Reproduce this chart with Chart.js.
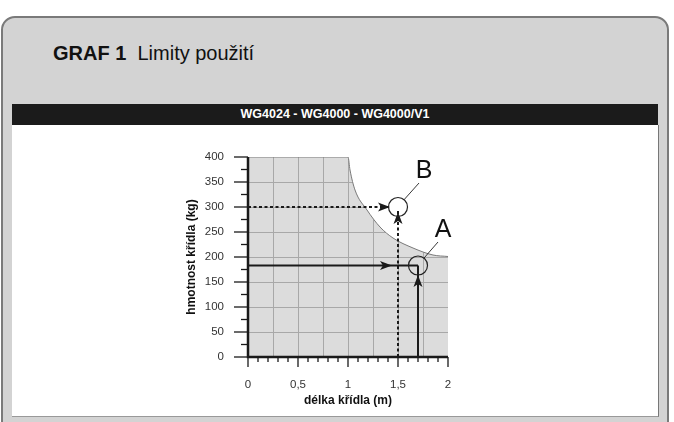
<!DOCTYPE html>
<html><head><meta charset="utf-8">
<script src="https://cdn.jsdelivr.net/npm/chart.js@4/dist/chart.umd.min.js"></script>
<style>
body{margin:0;width:674px;height:422px;background:#fff;overflow:hidden;font-family:"Liberation Sans",Arial,sans-serif;position:relative}
#box{position:absolute;left:1px;top:16px;width:668px;height:420px;background:#d3d3d3;border:2px solid #7a7a7a;border-radius:14px;box-sizing:border-box}
#head{position:absolute;left:53px;top:42px;font-size:20px;color:#111}
#bar{position:absolute;left:12px;top:104px;width:646px;height:21px;background:#1b1b1b;color:#fff;font-weight:bold;font-size:12.5px;text-align:center;line-height:21px}
#panel{position:absolute;left:12px;top:125px;width:646px;height:291px;background:#fff;border-right:1px solid #777;border-bottom:1px solid #999}
#c{position:absolute;left:12px;top:125px}
</style></head><body>
<div id="box"></div>
<div id="head"><b>GRAF 1</b>&nbsp; Limity použití</div>
<div id="bar">WG4024 - WG4000 - WG4000/V1</div>
<div id="panel"></div>
<canvas id="c" width="646" height="291"></canvas>
<script>
const limitX = [0, 1.0, 1.02, 1.07, 1.19, 1.32, 1.45, 1.65, 1.85, 2.0];
const limitY = [400, 400, 374, 334, 294, 260, 238, 218, 204, 201];
const xTicks = [0, 0.5, 1, 1.5, 2];
const yTicks = [0, 50, 100, 150, 200, 250, 300, 350, 400];
const pointA = {x:1.7, y:183, label:'A', lx:1.95, ly:254};
const pointB = {x:1.5, y:300, label:'B', lx:1.76, ly:372};

const limitData = limitX.map((x,i)=>({x, y:limitY[i]}));

const deco = {
  id:'deco',
  beforeDatasetsDraw(ch){
    const {ctx, chartArea:a, scales:{x:sx,y:sy}} = ch;
    ctx.save();
    ctx.fillStyle='#dcdcdc';
    ctx.fillRect(a.left,a.top,a.right-a.left,a.bottom-a.top);
    ctx.strokeStyle='#a8a8a8'; ctx.lineWidth=1;
    for(let v=0.25; v<2; v+=0.25){const p=Math.round(sx.getPixelForValue(v))+0.5;ctx.beginPath();ctx.moveTo(p,a.top);ctx.lineTo(p,a.bottom);ctx.stroke();}
    for(let v=50; v<400; v+=50){const p=Math.round(sy.getPixelForValue(v))+0.5;ctx.beginPath();ctx.moveTo(a.left,p);ctx.lineTo(a.right,p);ctx.stroke();}
    ctx.restore();
  },
  afterDatasetsDraw(ch){
    const {ctx, scales:{x:sx,y:sy}} = ch;
    const X=v=>sx.getPixelForValue(v), Y=v=>sy.getPixelForValue(v);
    ctx.save();
    ctx.strokeStyle='#1a1a1a'; ctx.lineCap='butt';
    ctx.lineWidth=1.3;
    for(let v=0; v<=400; v+=25){const len=v%50===0?14:7;ctx.beginPath();ctx.moveTo(X(0)-len,Y(v));ctx.lineTo(X(0),Y(v));ctx.stroke();}
    for(let i=0;i<=20;i++){const v=i/10;const len=i%5===0?10:5;ctx.beginPath();ctx.moveTo(X(v),Y(0));ctx.lineTo(X(v),Y(0)+len);ctx.stroke();}
    ctx.lineWidth=2.5;
    ctx.beginPath();ctx.moveTo(X(0),Y(400));ctx.lineTo(X(0),Y(0));ctx.lineTo(X(2),Y(0));ctx.stroke();
    function arrow(x1,y1,x2,y2,tx,ty,dash){
      ctx.lineWidth=2;ctx.setLineDash(dash?[3,2.5]:[]);
      ctx.beginPath();ctx.moveTo(X(x1),Y(y1));ctx.lineTo(X(x2),Y(y2));ctx.stroke();
      ctx.setLineDash([]);
      const px=X(tx),py=Y(ty),dx=Math.sign(X(x2)-X(x1)),dy=Math.sign(Y(y2)-Y(y1));
      ctx.fillStyle='#1a1a1a';ctx.beginPath();
      if(dx){ctx.moveTo(px,py);ctx.lineTo(px-12*dx,py-4.5);ctx.lineTo(px-9*dx,py);ctx.lineTo(px-12*dx,py+4.5);}
      else{ctx.moveTo(px,py);ctx.lineTo(px-4.5,py-12*dy);ctx.lineTo(px,py-9*dy);ctx.lineTo(px+4.5,py-12*dy);}
      ctx.closePath();ctx.fill();
    }
    arrow(0,pointA.y,pointA.x,pointA.y,1.44,pointA.y,false);
    arrow(pointA.x,0,pointA.x,pointA.y,pointA.x,164,false);
    arrow(0,pointB.y,pointB.x-0.07,pointB.y,1.42,pointB.y,true);
    arrow(pointB.x,0,pointB.x,pointB.y-8,pointB.x,290,true);
    for(const p of [pointA,pointB]){
      ctx.lineWidth=1.2;ctx.strokeStyle='#222';
      const cx=X(p.x),cy=Y(p.y),r=9.5;
      ctx.beginPath();ctx.arc(cx,cy,r,0,Math.PI*2);ctx.stroke();
      const lx=X(p.lx),ly=Y(p.ly);
      const ang=Math.atan2(ly+12-cy,lx-6-cx);
      ctx.lineWidth=0.9;ctx.beginPath();ctx.moveTo(cx+r*Math.cos(ang),cy+r*Math.sin(ang));ctx.lineTo(lx-5,ly+12);ctx.stroke();
      ctx.fillStyle='#111';ctx.font='25px "Liberation Sans",Arial';ctx.textAlign='center';ctx.textBaseline='middle';
      ctx.fillText(p.label,lx,ly);
    }
    ctx.restore();
  }
};

new Chart(document.getElementById('c'),{
  type:'line',
  data:{datasets:[{data:limitData,borderColor:'#7a7a7a',borderWidth:1,backgroundColor:'#ffffff',fill:'end',pointRadius:0,cubicInterpolationMode:'monotone'}]},
  options:{
    responsive:false,animation:false,
    layout:{padding:{left:168,right:210,top:32,bottom:4}},
    plugins:{legend:{display:false},tooltip:{enabled:false}},
    scales:{
      x:{type:'linear',min:0,max:2,afterFit:s=>{s.height=55;},
        afterBuildTicks:s=>{s.ticks=xTicks.map(v=>({value:v}));},
        grid:{display:false},border:{display:false},
        ticks:{padding:13,color:'#333',font:{size:11.5,family:'"Liberation Sans",Arial'},callback:v=>String(v).replace('.',',')},
        title:{display:true,text:'délka křídla (m)',color:'#111',font:{size:12,weight:'bold',family:'"Liberation Sans",Arial'},padding:{top:4}}},
      y:{type:'linear',min:0,max:400,afterFit:s=>{s.width=68;},
        afterBuildTicks:s=>{s.ticks=yTicks.map(v=>({value:v}));},
        grid:{display:false},border:{display:false},
        ticks:{padding:16,color:'#333',font:{size:11.5,family:'"Liberation Sans",Arial'}},
        title:{display:true,text:'hmotnost křídla (kg)',color:'#111',font:{size:12,weight:'bold',family:'"Liberation Sans",Arial'},padding:{bottom:0}}}
    }
  },
  plugins:[deco]
});
</script>
</body></html>
